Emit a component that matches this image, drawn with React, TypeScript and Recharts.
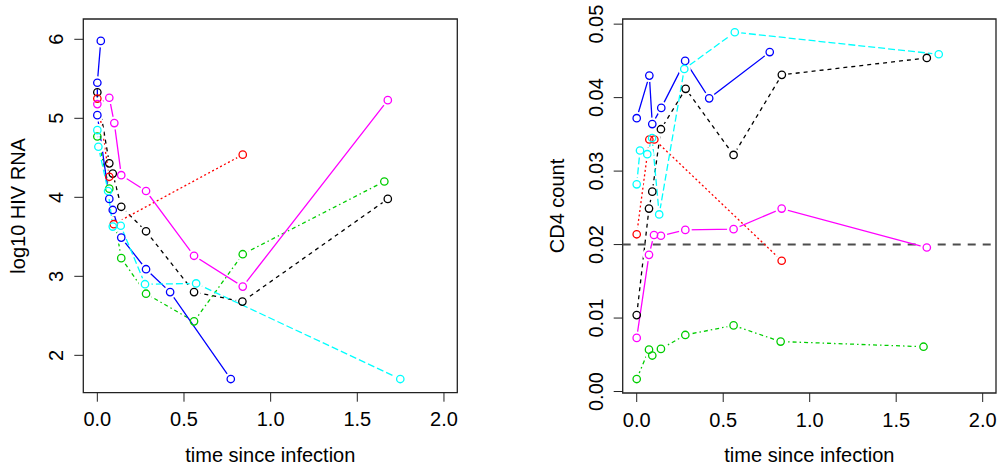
import React from "react";
import { ScatterChart, Scatter, XAxis, YAxis, ReferenceLine, ReferenceArea } from "recharts";

// log10 HIV RNA per patient: visit times (years) and values
const rnaTimesBlack = [0, 0.069, 0.089, 0.138, 0.281, 0.558, 0.837, 1.676];
const rnaBlack = [5.33, 4.43, 4.3, 3.88, 3.57, 2.8, 2.68, 3.98];
const rnaTimesRed = [0, 0.069, 0.095, 0.839];
const rnaRed = [5.25, 4.26, 3.66, 4.54];
const rnaTimesGreen = [0, 0.069, 0.138, 0.281, 0.558, 0.839, 1.656];
const rnaGreen = [4.77, 4.11, 3.23, 2.78, 2.43, 3.28, 4.2];
const rnaTimesBlue = [0.02, 0, 0, 0.069, 0.089, 0.138, 0.281, 0.42, 0.77];
const rnaBlue = [5.98, 5.45, 5.04, 3.98, 3.84, 3.49, 3.09, 2.8, 1.7];
const rnaTimesCyan = [0, 0.006, 0.062, 0.089, 0.135, 0.275, 0.57, 1.748];
const rnaCyan = [4.85, 4.64, 4.08, 3.63, 3.64, 2.9, 2.91, 1.7];
const rnaTimesMagenta = [0, 0.069, 0.098, 0.138, 0.281, 0.558, 0.839, 1.676];
const rnaMagenta = [5.18, 5.26, 4.94, 4.28, 4.08, 3.26, 2.87, 5.23];

// CD4 count per patient
const cd4TimesBlack = [0, 0.071, 0.09, 0.14, 0.283, 0.56, 0.839, 1.677];
const cd4Black = [0.0104, 0.0249, 0.0272, 0.0357, 0.0412, 0.0322, 0.0431, 0.0454];
const cd4TimesRed = [0, 0.073, 0.102, 0.838];
const cd4Red = [0.0214, 0.0343, 0.0343, 0.0178];
const cd4TimesGreen = [0, 0.071, 0.09, 0.14, 0.281, 0.56, 0.832, 1.658];
const cd4Green = [0.0017, 0.0057, 0.0049, 0.0058, 0.0077, 0.009, 0.0068, 0.0061];
const cd4TimesBlue = [0, 0.073, 0.09, 0.142, 0.28, 0.419, 0.769];
const cd4Blue = [0.0372, 0.043, 0.0364, 0.0386, 0.045, 0.0399, 0.0462];
const cd4TimesCyan = [0, 0.019, 0.061, 0.089, 0.13, 0.275, 0.567, 1.746];
const cd4Cyan = [0.0282, 0.0328, 0.0323, 0.0345, 0.0241, 0.0439, 0.0489, 0.0459];
const cd4TimesMagenta = [0, 0.071, 0.1, 0.14, 0.281, 0.56, 0.838, 1.677];
const cd4Magenta = [0.0073, 0.0186, 0.0213, 0.0212, 0.022, 0.0221, 0.0249, 0.0196];

const timeTicks = [0, 0.5, 1, 1.5, 2];
const rnaTicks = [2, 3, 4, 5, 6];
const cd4Ticks = [0, 0.01, 0.02, 0.03, 0.04, 0.05];
const cd4Threshold = 0.02;

const X_DOMAIN: [number, number] = [-0.081, 2.077];
const RNA_DOMAIN: [number, number] = [1.527, 6.257];
const CD4_DOMAIN: [number, number] = [-0.0002, 0.0507];

const FONT = '"Liberation Sans", Arial, Helvetica, sans-serif';
const FS = 20;
const INK = "#222";

// line styles in the spirit of R's lty 1..5
const STYLES = {
  black: { color: "#000000", dash: "4 4" },
  red: { color: "#FF0000", dash: "2 2.5" },
  green: { color: "#00CD00", dash: "1.5 3 4 3" },
  blue: { color: "#0000FF", dash: undefined },
  cyan: { color: "#00FFFF", dash: "7 3" },
  magenta: { color: "#FF00FF", dash: undefined },
};

type Key = keyof typeof STYLES;
type Series = { key: Key; t: number[]; y: number[] };

const rnaSeries: Series[] = [
  { key: "black", t: rnaTimesBlack, y: rnaBlack },
  { key: "red", t: rnaTimesRed, y: rnaRed },
  { key: "green", t: rnaTimesGreen, y: rnaGreen },
  { key: "blue", t: rnaTimesBlue, y: rnaBlue },
  { key: "cyan", t: rnaTimesCyan, y: rnaCyan },
  { key: "magenta", t: rnaTimesMagenta, y: rnaMagenta },
];

const cd4Series: Series[] = [
  { key: "black", t: cd4TimesBlack, y: cd4Black },
  { key: "red", t: cd4TimesRed, y: cd4Red },
  { key: "green", t: cd4TimesGreen, y: cd4Green },
  { key: "blue", t: cd4TimesBlue, y: cd4Blue },
  { key: "cyan", t: cd4TimesCyan, y: cd4Cyan },
  { key: "magenta", t: cd4TimesMagenta, y: cd4Magenta },
];

const toPoints = (s: Series) => s.t.map((t, i) => ({ t, y: s.y[i] }));

// white disk under each point so the connecting line stops short of the circle (type="b")
const gapShape = (p: any) => <circle cx={p.cx} cy={p.cy} r={6.5} fill="#ffffff" />;
const ringShape = (color: string) => (p: any) =>
  <circle cx={p.cx} cy={p.cy} r={3.7} fill="none" stroke={color} strokeWidth={1.3} />;

const XTick = (p: any) => (
  <text x={p.x} y={p.y} dy={22.7} textAnchor="middle" fontFamily={FONT} fontSize={FS} fill="#000">
    {Number(p.payload.value).toFixed(1)}
  </text>
);

const makeYTick = (digits: number) => (p: any) => (
  <text
    transform={`translate(${p.x - 9.2},${p.y}) rotate(-90)`}
    textAnchor="middle"
    fontFamily={FONT}
    fontSize={FS}
    fill="#000"
  >
    {Number(p.payload.value).toFixed(digits)}
  </text>
);

const xTitle = (props: any) => {
  const vb = props.viewBox;
  return (
    <text x={vb.x + vb.width / 2} y={vb.y + 69} textAnchor="middle" fontFamily={FONT} fontSize={FS} fill="#000">
      time since infection
    </text>
  );
};

const makeYTitle = (text: string) => (props: any) => {
  const vb = props.viewBox;
  const x = vb.x + vb.width - 58.3;
  const y = vb.y + vb.height / 2;
  return (
    <text transform={`translate(${x},${y}) rotate(-90)`} textAnchor="middle" fontFamily={FONT} fontSize={FS} fill="#000">
      {text}
    </text>
  );
};

interface PanelProps {
  left: number;
  margin: { top: number; right: number; bottom: number; left: number };
  series: Series[];
  yDomain: [number, number];
  yTicks: number[];
  yDigits: number;
  yLabel: string;
  refY?: number;
}

function Panel({ left, margin, series, yDomain, yTicks, yDigits, yLabel, refY }: PanelProps) {
  return (
    <div style={{ position: "absolute", left, top: 0 }}>
      <ScatterChart width={500} height={472} margin={margin}>
        <XAxis
          type="number"
          dataKey="t"
          domain={X_DOMAIN}
          ticks={timeTicks}
          allowDataOverflow
          interval={0}
          axisLine={false}
          tickLine={{ stroke: INK, strokeWidth: 1 }}
          tickSize={9}
          height={60}
          tick={<XTick />}
          label={xTitle}
        />
        <YAxis
          type="number"
          dataKey="y"
          domain={yDomain}
          ticks={yTicks}
          allowDataOverflow
          interval={0}
          axisLine={false}
          tickLine={{ stroke: INK, strokeWidth: 1 }}
          tickSize={9}
          width={60}
          tick={makeYTick(yDigits)}
          label={makeYTitle(yLabel)}
        />
        {series.map((s) => (
          <Scatter
            key={`${s.key}-line`}
            data={toPoints(s)}
            line={{ stroke: STYLES[s.key].color, strokeWidth: 1.3, strokeDasharray: STYLES[s.key].dash }}
            shape={gapShape}
            isAnimationActive={false}
          />
        ))}
        {series.map((s) => (
          <Scatter
            key={`${s.key}-pts`}
            data={toPoints(s)}
            shape={ringShape(STYLES[s.key].color)}
            isAnimationActive={false}
          />
        ))}
        {refY !== undefined && (
          <ReferenceLine y={refY} stroke="#4d4d4d" strokeWidth={2} strokeDasharray="8 7" />
        )}
        <ReferenceArea
          x1={X_DOMAIN[0]}
          x2={X_DOMAIN[1]}
          y1={yDomain[0]}
          y2={yDomain[1]}
          fill="none"
          fillOpacity={0}
          stroke={INK}
          strokeWidth={1.3}
        />
      </ScatterChart>
    </div>
  );
}

export default function App() {
  return (
    <div style={{ position: "absolute", left: 0, top: 0, width: 1001, height: 472, background: "#fff" }}>
      <Panel
        left={0}
        margin={{ top: 19, right: 42.7, bottom: 19.3, left: 23.3 }}
        series={rnaSeries}
        yDomain={RNA_DOMAIN}
        yTicks={rnaTicks}
        yDigits={0}
        yLabel="log10 HIV RNA"
      />
      <Panel
        left={500}
        margin={{ top: 19, right: 4, bottom: 19, left: 62.7 }}
        series={cd4Series}
        yDomain={CD4_DOMAIN}
        yTicks={cd4Ticks}
        yDigits={2}
        yLabel="CD4 count"
        refY={cd4Threshold}
      />
    </div>
  );
}
